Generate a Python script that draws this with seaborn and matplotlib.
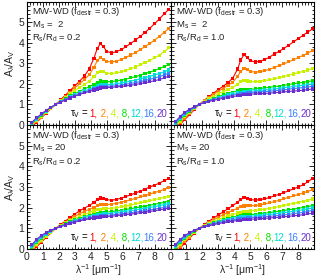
import matplotlib
matplotlib.use("Agg")
import matplotlib.pyplot as plt
import numpy as np
import pandas as pd
import seaborn as sns
from matplotlib.ticker import MultipleLocator, AutoMinorLocator
from matplotlib.offsetbox import TextArea, HPacker, AnchoredOffsetbox

# ---------------- data ----------------
X_INV = [0.3, 0.6, 0.9, 1.2, 1.5, 1.8, 2.1, 2.4, 2.7, 3.0, 3.3, 3.6, 3.9, 4.2, 4.4, 4.6,
         4.8, 5.0, 5.3, 5.6, 5.9, 6.2, 6.5, 6.8, 7.1, 7.4, 7.7, 8.0, 8.3, 8.6, 8.9]
TAUS = ["1", "2", "4", "8", "12", "16", "20"]
TAU_COLORS = ["#ff0000", "#ff7f00", "#c8f000", "#00e000", "#00dcd8", "#3a7fff", "#6a2fd0"]
TAU_LABELS = ["1,", " 2,", " 4,", " 8,", "12,", "16,", "20"]

# top-left: Ms=2, Rs/Rd=0.2
tl_1 = [-0.08, 0.13, 0.35, 0.57, 0.79, 1.00, 1.22, 1.44, 1.67, 1.90, 2.13, 2.38, 2.72, 3.25, 3.70, 3.95,
        3.80, 3.58, 3.50, 3.56, 3.66, 3.80, 3.96, 4.13, 4.30, 4.50, 4.70, 4.92, 5.15, 5.40, 5.62]
tl_2 = [-0.03, 0.17, 0.38, 0.59, 0.80, 1.00, 1.20, 1.40, 1.60, 1.80, 2.00, 2.20, 2.44, 2.80, 3.12, 3.28,
        3.20, 3.10, 3.06, 3.10, 3.18, 3.28, 3.40, 3.52, 3.66, 3.81, 3.96, 4.12, 4.30, 4.50, 4.69]
tl_4 = [0.00, 0.21, 0.42, 0.62, 0.82, 1.00, 1.17, 1.34, 1.51, 1.67, 1.82, 1.97, 2.13, 2.35, 2.53, 2.62,
        2.58, 2.52, 2.50, 2.53, 2.58, 2.65, 2.73, 2.82, 2.92, 3.03, 3.14, 3.26, 3.39, 3.56, 3.75]
tl_8 = [0.04, 0.26, 0.46, 0.65, 0.83, 1.00, 1.14, 1.28, 1.41, 1.53, 1.64, 1.75, 1.86, 1.98, 2.08, 2.14,
        2.13, 2.11, 2.11, 2.14, 2.18, 2.23, 2.29, 2.35, 2.42, 2.50, 2.57, 2.65, 2.74, 2.84, 2.95]
tl_12 = [0.07, 0.29, 0.49, 0.67, 0.84, 1.00, 1.13, 1.25, 1.36, 1.46, 1.56, 1.65, 1.74, 1.83, 1.91, 1.96,
         1.97, 1.96, 1.97, 2.00, 2.04, 2.08, 2.13, 2.18, 2.24, 2.30, 2.36, 2.43, 2.50, 2.58, 2.67]
tl_16 = [0.10, 0.32, 0.51, 0.69, 0.85, 1.00, 1.12, 1.23, 1.33, 1.42, 1.51, 1.59, 1.67, 1.75, 1.81, 1.86,
         1.88, 1.88, 1.89, 1.91, 1.94, 1.98, 2.02, 2.06, 2.11, 2.16, 2.22, 2.28, 2.35, 2.43, 2.51]
tl_20 = [0.13, 0.35, 0.54, 0.71, 0.86, 1.00, 1.11, 1.21, 1.31, 1.40, 1.48, 1.56, 1.63, 1.70, 1.75, 1.80,
         1.82, 1.82, 1.83, 1.85, 1.87, 1.90, 1.93, 1.97, 2.01, 2.05, 2.10, 2.15, 2.21, 2.29, 2.37]

# top-right: Ms=2, Rs/Rd=1.0
tr_1 = [-0.20, 0.03, 0.27, 0.51, 0.75, 1.00, 1.19, 1.37, 1.55, 1.72, 1.89, 2.06, 2.28, 2.72, 3.16, 3.42,
        3.28, 3.12, 3.06, 3.10, 3.18, 3.30, 3.45, 3.58, 3.72, 3.88, 4.04, 4.20, 4.36, 4.52, 4.67]
tr_2 = [-0.12, 0.10, 0.33, 0.56, 0.78, 1.00, 1.17, 1.33, 1.49, 1.64, 1.78, 1.92, 2.08, 2.36, 2.60, 2.74,
        2.68, 2.60, 2.57, 2.59, 2.64, 2.71, 2.80, 2.88, 2.97, 3.07, 3.17, 3.27, 3.38, 3.50, 3.62]
tr_4 = [-0.04, 0.18, 0.40, 0.61, 0.81, 1.00, 1.14, 1.27, 1.40, 1.52, 1.63, 1.73, 1.84, 1.98, 2.11, 2.17,
        2.14, 2.11, 2.10, 2.12, 2.16, 2.20, 2.25, 2.30, 2.36, 2.42, 2.48, 2.54, 2.60, 2.67, 2.74]
tr_8 = [0.02, 0.26, 0.47, 0.66, 0.84, 1.00, 1.11, 1.21, 1.30, 1.39, 1.46, 1.53, 1.60, 1.66, 1.70, 1.73,
        1.74, 1.74, 1.75, 1.77, 1.80, 1.83, 1.86, 1.89, 1.93, 1.97, 2.00, 2.04, 2.07, 2.11, 2.15]
tr_12 = [0.07, 0.32, 0.52, 0.70, 0.86, 1.00, 1.10, 1.18, 1.26, 1.33, 1.40, 1.46, 1.52, 1.57, 1.60, 1.63,
         1.64, 1.65, 1.66, 1.68, 1.70, 1.73, 1.75, 1.78, 1.81, 1.84, 1.87, 1.90, 1.93, 1.96, 2.00]
tr_16 = [0.11, 0.37, 0.57, 0.73, 0.87, 1.00, 1.09, 1.16, 1.23, 1.29, 1.35, 1.40, 1.45, 1.50, 1.53, 1.55,
         1.57, 1.58, 1.59, 1.60, 1.62, 1.64, 1.66, 1.69, 1.71, 1.74, 1.77, 1.79, 1.82, 1.85, 1.88]
tr_20 = [0.15, 0.42, 0.62, 0.77, 0.89, 1.00, 1.08, 1.14, 1.20, 1.25, 1.30, 1.34, 1.38, 1.42, 1.45, 1.47,
         1.49, 1.50, 1.51, 1.52, 1.53, 1.55, 1.57, 1.59, 1.61, 1.63, 1.65, 1.67, 1.69, 1.72, 1.75]

# bottom-left: Ms=20, Rs/Rd=0.2
bl_1 = [-0.12, 0.10, 0.33, 0.56, 0.78, 1.00, 1.18, 1.35, 1.52, 1.69, 1.85, 1.98, 2.10, 2.25, 2.38, 2.47,
        2.44, 2.39, 2.36, 2.40, 2.46, 2.54, 2.62, 2.71, 2.80, 2.90, 3.00, 3.09, 3.19, 3.30, 3.42]
bl_2 = [-0.08, 0.15, 0.37, 0.59, 0.80, 1.00, 1.15, 1.30, 1.44, 1.58, 1.71, 1.82, 1.92, 2.02, 2.09, 2.14,
        2.15, 2.15, 2.17, 2.21, 2.26, 2.32, 2.38, 2.45, 2.52, 2.59, 2.66, 2.73, 2.80, 2.88, 2.96]
bl_4 = [-0.02, 0.22, 0.43, 0.63, 0.82, 1.00, 1.13, 1.26, 1.38, 1.49, 1.59, 1.68, 1.76, 1.84, 1.89, 1.93,
        1.94, 1.95, 1.97, 2.00, 2.04, 2.08, 2.13, 2.18, 2.23, 2.28, 2.33, 2.39, 2.44, 2.50, 2.55]
bl_8 = [0.05, 0.30, 0.50, 0.68, 0.85, 1.00, 1.11, 1.22, 1.32, 1.41, 1.49, 1.56, 1.63, 1.69, 1.73, 1.77,
        1.78, 1.79, 1.81, 1.84, 1.87, 1.91, 1.95, 1.99, 2.03, 2.07, 2.12, 2.16, 2.21, 2.26, 2.31]
bl_12 = [0.10, 0.36, 0.55, 0.72, 0.87, 1.00, 1.10, 1.20, 1.29, 1.37, 1.44, 1.51, 1.57, 1.62, 1.66, 1.69,
         1.70, 1.71, 1.73, 1.76, 1.79, 1.82, 1.86, 1.89, 1.93, 1.97, 2.01, 2.05, 2.10, 2.15, 2.20]
bl_16 = [0.15, 0.41, 0.60, 0.76, 0.89, 1.00, 1.09, 1.18, 1.26, 1.33, 1.39, 1.45, 1.50, 1.55, 1.58, 1.61,
         1.62, 1.63, 1.65, 1.67, 1.70, 1.73, 1.76, 1.79, 1.82, 1.86, 1.89, 1.93, 1.97, 2.01, 2.06]
bl_20 = [0.20, 0.47, 0.66, 0.80, 0.91, 1.00, 1.08, 1.16, 1.23, 1.30, 1.36, 1.41, 1.46, 1.50, 1.53, 1.55,
         1.56, 1.57, 1.59, 1.61, 1.64, 1.66, 1.69, 1.72, 1.75, 1.78, 1.82, 1.85, 1.89, 1.93, 1.98]

# bottom-right: Ms=20, Rs/Rd=1.0
br_1 = [-0.20, 0.04, 0.29, 0.53, 0.77, 1.00, 1.17, 1.34, 1.50, 1.65, 1.80, 1.95, 2.10, 2.27, 2.40, 2.48,
        2.44, 2.39, 2.37, 2.39, 2.43, 2.49, 2.57, 2.65, 2.73, 2.82, 2.91, 3.00, 3.11, 3.25, 3.42]
br_2 = [-0.10, 0.13, 0.36, 0.58, 0.79, 1.00, 1.14, 1.28, 1.41, 1.54, 1.66, 1.77, 1.87, 1.97, 2.04, 2.08,
        2.09, 2.09, 2.10, 2.13, 2.18, 2.23, 2.29, 2.36, 2.43, 2.50, 2.57, 2.64, 2.71, 2.79, 2.87]
br_4 = [-0.02, 0.22, 0.44, 0.64, 0.82, 1.00, 1.12, 1.23, 1.33, 1.43, 1.52, 1.60, 1.67, 1.74, 1.78, 1.82,
        1.83, 1.84, 1.86, 1.89, 1.93, 1.97, 2.01, 2.06, 2.11, 2.16, 2.21, 2.26, 2.31, 2.36, 2.42]
br_8 = [0.06, 0.31, 0.52, 0.70, 0.86, 1.00, 1.10, 1.19, 1.27, 1.35, 1.42, 1.48, 1.54, 1.59, 1.62, 1.65,
        1.66, 1.67, 1.68, 1.70, 1.73, 1.76, 1.79, 1.83, 1.86, 1.90, 1.93, 1.97, 2.01, 2.05, 2.10]
br_12 = [0.10, 0.36, 0.56, 0.73, 0.88, 1.00, 1.09, 1.17, 1.24, 1.31, 1.37, 1.43, 1.48, 1.52, 1.55, 1.57,
         1.58, 1.59, 1.60, 1.62, 1.65, 1.67, 1.70, 1.73, 1.76, 1.79, 1.83, 1.86, 1.90, 1.94, 1.99]
br_16 = [0.15, 0.41, 0.61, 0.77, 0.90, 1.00, 1.08, 1.15, 1.21, 1.27, 1.32, 1.37, 1.41, 1.45, 1.47, 1.49,
         1.50, 1.51, 1.52, 1.54, 1.56, 1.58, 1.60, 1.63, 1.65, 1.68, 1.71, 1.74, 1.77, 1.82, 1.87]
br_20 = [0.20, 0.46, 0.65, 0.80, 0.91, 1.00, 1.07, 1.13, 1.18, 1.23, 1.27, 1.31, 1.35, 1.38, 1.40, 1.42,
         1.43, 1.44, 1.45, 1.46, 1.48, 1.50, 1.52, 1.54, 1.56, 1.58, 1.61, 1.63, 1.66, 1.70, 1.74]

PANELS = [
    (" 2", "0.2", [tl_1, tl_2, tl_4, tl_8, tl_12, tl_16, tl_20]),
    (" 2", "1.0", [tr_1, tr_2, tr_4, tr_8, tr_12, tr_16, tr_20]),
    ("20", "0.2", [bl_1, bl_2, bl_4, bl_8, bl_12, bl_16, bl_20]),
    ("20", "1.0", [br_1, br_2, br_4, br_8, br_12, br_16, br_20]),
]

# ---------------- style ----------------
sns.set_theme(style="ticks")
plt.rcParams["font.family"] = ["Liberation Sans", "DejaVu Sans"]
plt.rcParams["mathtext.fontset"] = "custom"
plt.rcParams["mathtext.rm"] = "Liberation Sans"
plt.rcParams["mathtext.it"] = "Liberation Sans"
plt.rcParams["mathtext.bf"] = "Liberation Sans:bold"

FS = 6.8
W, H = 317, 280
fig = plt.figure(figsize=(W / 100, H / 100), dpi=100)

xl = [27, 170.5]
xw = [143.5, 143.8]
yt = [1.5, 125]
yh = [123.5, 124]

palette = dict(zip(TAUS, TAU_COLORS))

for idx, (ms_txt, rr, curves) in enumerate(PANELS):
    row, col = divmod(idx, 2)
    ax = fig.add_axes([xl[col] / W, 1 - (yt[row] + yh[row]) / H, xw[col] / W, yh[row] / H])
    rows = []
    for tau, vals in zip(TAUS, curves):
        for xv, yv in zip(X_INV, vals):
            rows.append((xv, yv, tau))
    df = pd.DataFrame(rows, columns=["x", "y", "tau"])
    sns.lineplot(data=df, x="x", y="y", hue="tau", hue_order=TAUS, palette=palette,
                 estimator=None, sort=False, legend=False, lw=0.8, ax=ax)
    sns.scatterplot(data=df, x="x", y="y", hue="tau", hue_order=TAUS, palette=palette,
                    marker="s", s=5, linewidth=0, legend=False, ax=ax, zorder=3)
    ax.set_xlim(0, 9)
    ax.set_ylim(0, 6)
    ax.xaxis.set_major_locator(MultipleLocator(1))
    ax.xaxis.set_minor_locator(AutoMinorLocator(5))
    ax.yaxis.set_major_locator(MultipleLocator(1))
    ax.yaxis.set_minor_locator(AutoMinorLocator(5))
    ax.tick_params(which="both", direction="in", top=True, right=True, labelsize=7.5,
                   width=0.7, pad=2)
    ax.tick_params(which="major", length=3.5)
    ax.tick_params(which="minor", length=1.8)
    for s in ax.spines.values():
        s.set_linewidth(0.8)
        s.set_color("black")
    ax.set_xlabel("")
    ax.set_ylabel("")
    if row == 1:
        ax.set_xticks(range(10))
        ax.set_xticklabels([str(i) for i in range(9)] + [""])
        ax.set_xlabel(r"$\mathrm{\lambda^{-1}}$ [$\mathrm{\mu m^{-1}}$]", fontsize=7.5, labelpad=0)
    else:
        ax.set_xticklabels([])
    if col == 0:
        ax.set_yticks(range(7))
        ax.set_yticklabels([str(i) for i in range(6)] + [""])
        ax.set_ylabel(r"$\mathrm{A_{\lambda}/A_{V}}$", fontsize=7.5, labelpad=1)
    else:
        ax.set_yticklabels([])

    ax.text(0.035, 1 - 10.5 / yh[row], r"MW-WD (f$_{\mathrm{destr}}$ = 0.3)",
            transform=ax.transAxes, fontsize=FS, ha="left", va="center")
    ax.text(0.035, 1 - 23.5 / yh[row], r"M$_{\mathrm{s}}$ = " + ms_txt,
            transform=ax.transAxes, fontsize=FS, ha="left", va="center")
    ax.text(0.035, 1 - 36.5 / yh[row], r"R$_{\mathrm{s}}$/R$_{\mathrm{d}}$ = " + rr,
            transform=ax.transAxes, fontsize=FS, ha="left", va="center")

    parts = [TextArea(r"$\mathrm{\tau_V}$ = ", textprops=dict(color="black", fontsize=7))]
    for lab, c in zip(TAU_LABELS, TAU_COLORS):
        parts.append(TextArea(lab, textprops=dict(color=c, fontsize=7)))
    box = HPacker(children=parts, align="baseline", pad=0, sep=0)
    anc = AnchoredOffsetbox(loc="lower right", child=box, pad=0.1, frameon=False,
                            bbox_to_anchor=(0.99, 0.025), bbox_transform=ax.transAxes,
                            borderpad=0)
    ax.add_artist(anc)

fig.savefig("out.png", dpi=100)
